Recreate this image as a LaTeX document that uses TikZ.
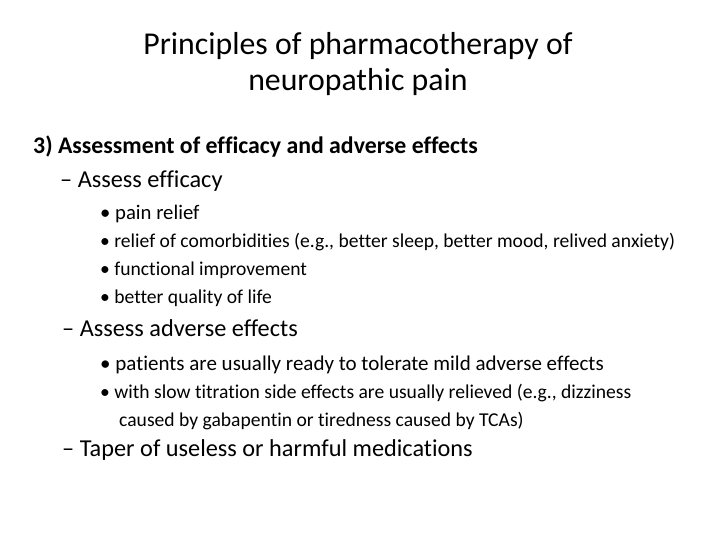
\documentclass[tikz,border=0pt]{standalone}
\usepackage{fontspec}
\setmainfont[Ligatures={NoCommon}]{Carlito}
\begin{document}
\begin{tikzpicture}[x=1pt,y=-1pt,
  t/.style={anchor=west,inner sep=0pt},
  lvl1/.style={t,font=\fontsize{24.3}{29}\selectfont},
  lvl2/.style={t,font=\fontsize{19.6}{23}\selectfont}]
\useasboundingbox (0,0) rectangle (720,540);
\node[inner sep=0pt,align=center,font=\fontsize{31.8}{36}\selectfont] (title) at (358,64) {Principles of pharmacotherapy of\\neuropathic pain};
\node[lvl1,font=\fontsize{23.8}{29}\selectfont\bfseries] (h) at (33,147) {3) Assessment of efficacy and adverse effects};
\node[lvl1] (a) at (60,181) {– Assess efficacy};
\node[lvl2,font=\fontsize{20.7}{24}\selectfont] (a1) at (100,214) {• pain relief};
\node[lvl2] (a2) at (100,242) {• relief of comorbidities (e.g., better sleep, better mood, relived anxiety)};
\node[lvl2] (a3) at (100,270) {• functional improvement};
\node[lvl2] (a4) at (100,298) {• better quality of life};
\node[lvl1] (b) at (62,328) {– Assess adverse effects};
\node[lvl2,font=\fontsize{21}{24}\selectfont] (b1) at (100,365) {• patients are usually ready to tolerate mild adverse effects};
\node[lvl2] (b2) at (100,393) {• with slow titration side effects are usually relieved (e.g., dizziness};
\node[lvl2] (b3) at (119,421) {caused by gabapentin or tiredness caused by TCAs)};
\node[lvl1] (c) at (62,450) {– Taper of useless or harmful medications};
\end{tikzpicture}
\end{document}
